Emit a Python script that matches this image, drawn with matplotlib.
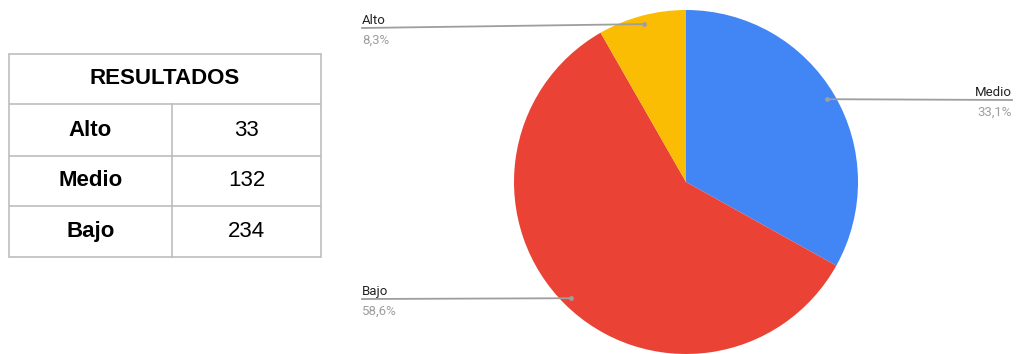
import numpy as np
import matplotlib
matplotlib.use("Agg")
import matplotlib.pyplot as plt

# Data
categories = ["Alto", "Medio", "Bajo"]
counts = [33, 132, 234]
table_title = "RESULTADOS"

# Pie order (clockwise from 12 o'clock) and colours
pie_order = ["Medio", "Bajo", "Alto"]
pie_colors = {"Medio": "#4285F4", "Bajo": "#EA4335", "Alto": "#FBBC04"}

W, H = 1021, 354
fig = plt.figure(figsize=(W / 100, H / 100), dpi=100)
ax = fig.add_axes([0, 0, 1, 1])
ax.set_xlim(0, W)
ax.set_ylim(0, H)
ax.set_aspect("equal")
ax.axis("off")

def py(y):
    """Convert a top-down pixel row to axis y."""
    return H - y

# ---- Table ----
tx0, tx1, tcol = 9, 321, 172
row_edges = [54, 104, 156, 206, 257]
grid = "#bdbdbd"
tfont = ["Liberation Sans", "DejaVu Sans"]
for y in row_edges:
    ax.plot([tx0, tx1], [py(y), py(y)], color=grid, lw=1.2, solid_capstyle="butt")
ax.plot([tx0, tx0], [py(row_edges[0]), py(row_edges[-1])], color=grid, lw=1.2)
ax.plot([tx1, tx1], [py(row_edges[0]), py(row_edges[-1])], color=grid, lw=1.2)
ax.plot([tcol, tcol], [py(row_edges[1]), py(row_edges[-1])], color=grid, lw=1.2)

ax.text((tx0 + tx1) / 2, py((row_edges[0] + row_edges[1]) / 2), table_title,
        ha="center", va="center", fontsize=16, fontweight="bold",
        family=tfont, color="#000000")
for i, (cat, val) in enumerate(zip(categories, counts)):
    yc = py((row_edges[i + 1] + row_edges[i + 2]) / 2)
    ax.text((tx0 + tcol) / 2, yc, cat, ha="center", va="center",
            fontsize=16, fontweight="bold", family=tfont, color="#000000")
    ax.text((tcol + tx1) / 2, yc, str(val), ha="center", va="center",
            fontsize=16, family=tfont, color="#000000")

# ---- Pie ----
cx, cy, r = 686, 182, 172
value_of = dict(zip(categories, counts))
pie_vals = [value_of[c] for c in pie_order]
ax.pie(pie_vals, colors=[pie_colors[c] for c in pie_order],
       startangle=90, counterclock=False, center=(cx, py(cy)), radius=r,
       wedgeprops=dict(linewidth=0), frame=True)
ax.set_xlim(0, W)
ax.set_ylim(0, H)
ax.axis("off")

# Leader lines and labels
total = sum(pie_vals)
label_layout = {
    # name: (text x, line y at text end, side)
    "Alto": (362, 28, "left"),
    "Medio": (1012, 100, "right"),
    "Bajo": (362, 299, "left"),
}
lfont = ["Roboto", "DejaVu Sans"]
cum = 0
for name, v in zip(pie_order, pie_vals):
    mid = (cum + v / 2) / total * 360.0
    cum += v
    theta = np.deg2rad(90 - mid)
    dx = cx + 0.95 * r * np.cos(theta)
    dy = py(cy) + 0.95 * r * np.sin(theta)
    lx, ly, side = label_layout[name]
    ax.plot([lx, dx], [py(ly), dy], color="#9e9e9e", lw=1.3, zorder=5)
    ax.plot([dx], [dy], "o", ms=3.5, color="#9e9e9e", mec="none", zorder=6)
    pct = f"{100 * v / total:.1f}%".replace(".", ",")
    ax.text(lx, py(ly - 4), name, ha=side, va="baseline", fontsize=9.5,
            family=lfont, color="#222222")
    ax.text(lx, py(ly + 6), pct, ha=side, va="top", fontsize=9.5,
            family=lfont, color="#9e9e9e")

fig.savefig("out.png", dpi=100, facecolor="white")
